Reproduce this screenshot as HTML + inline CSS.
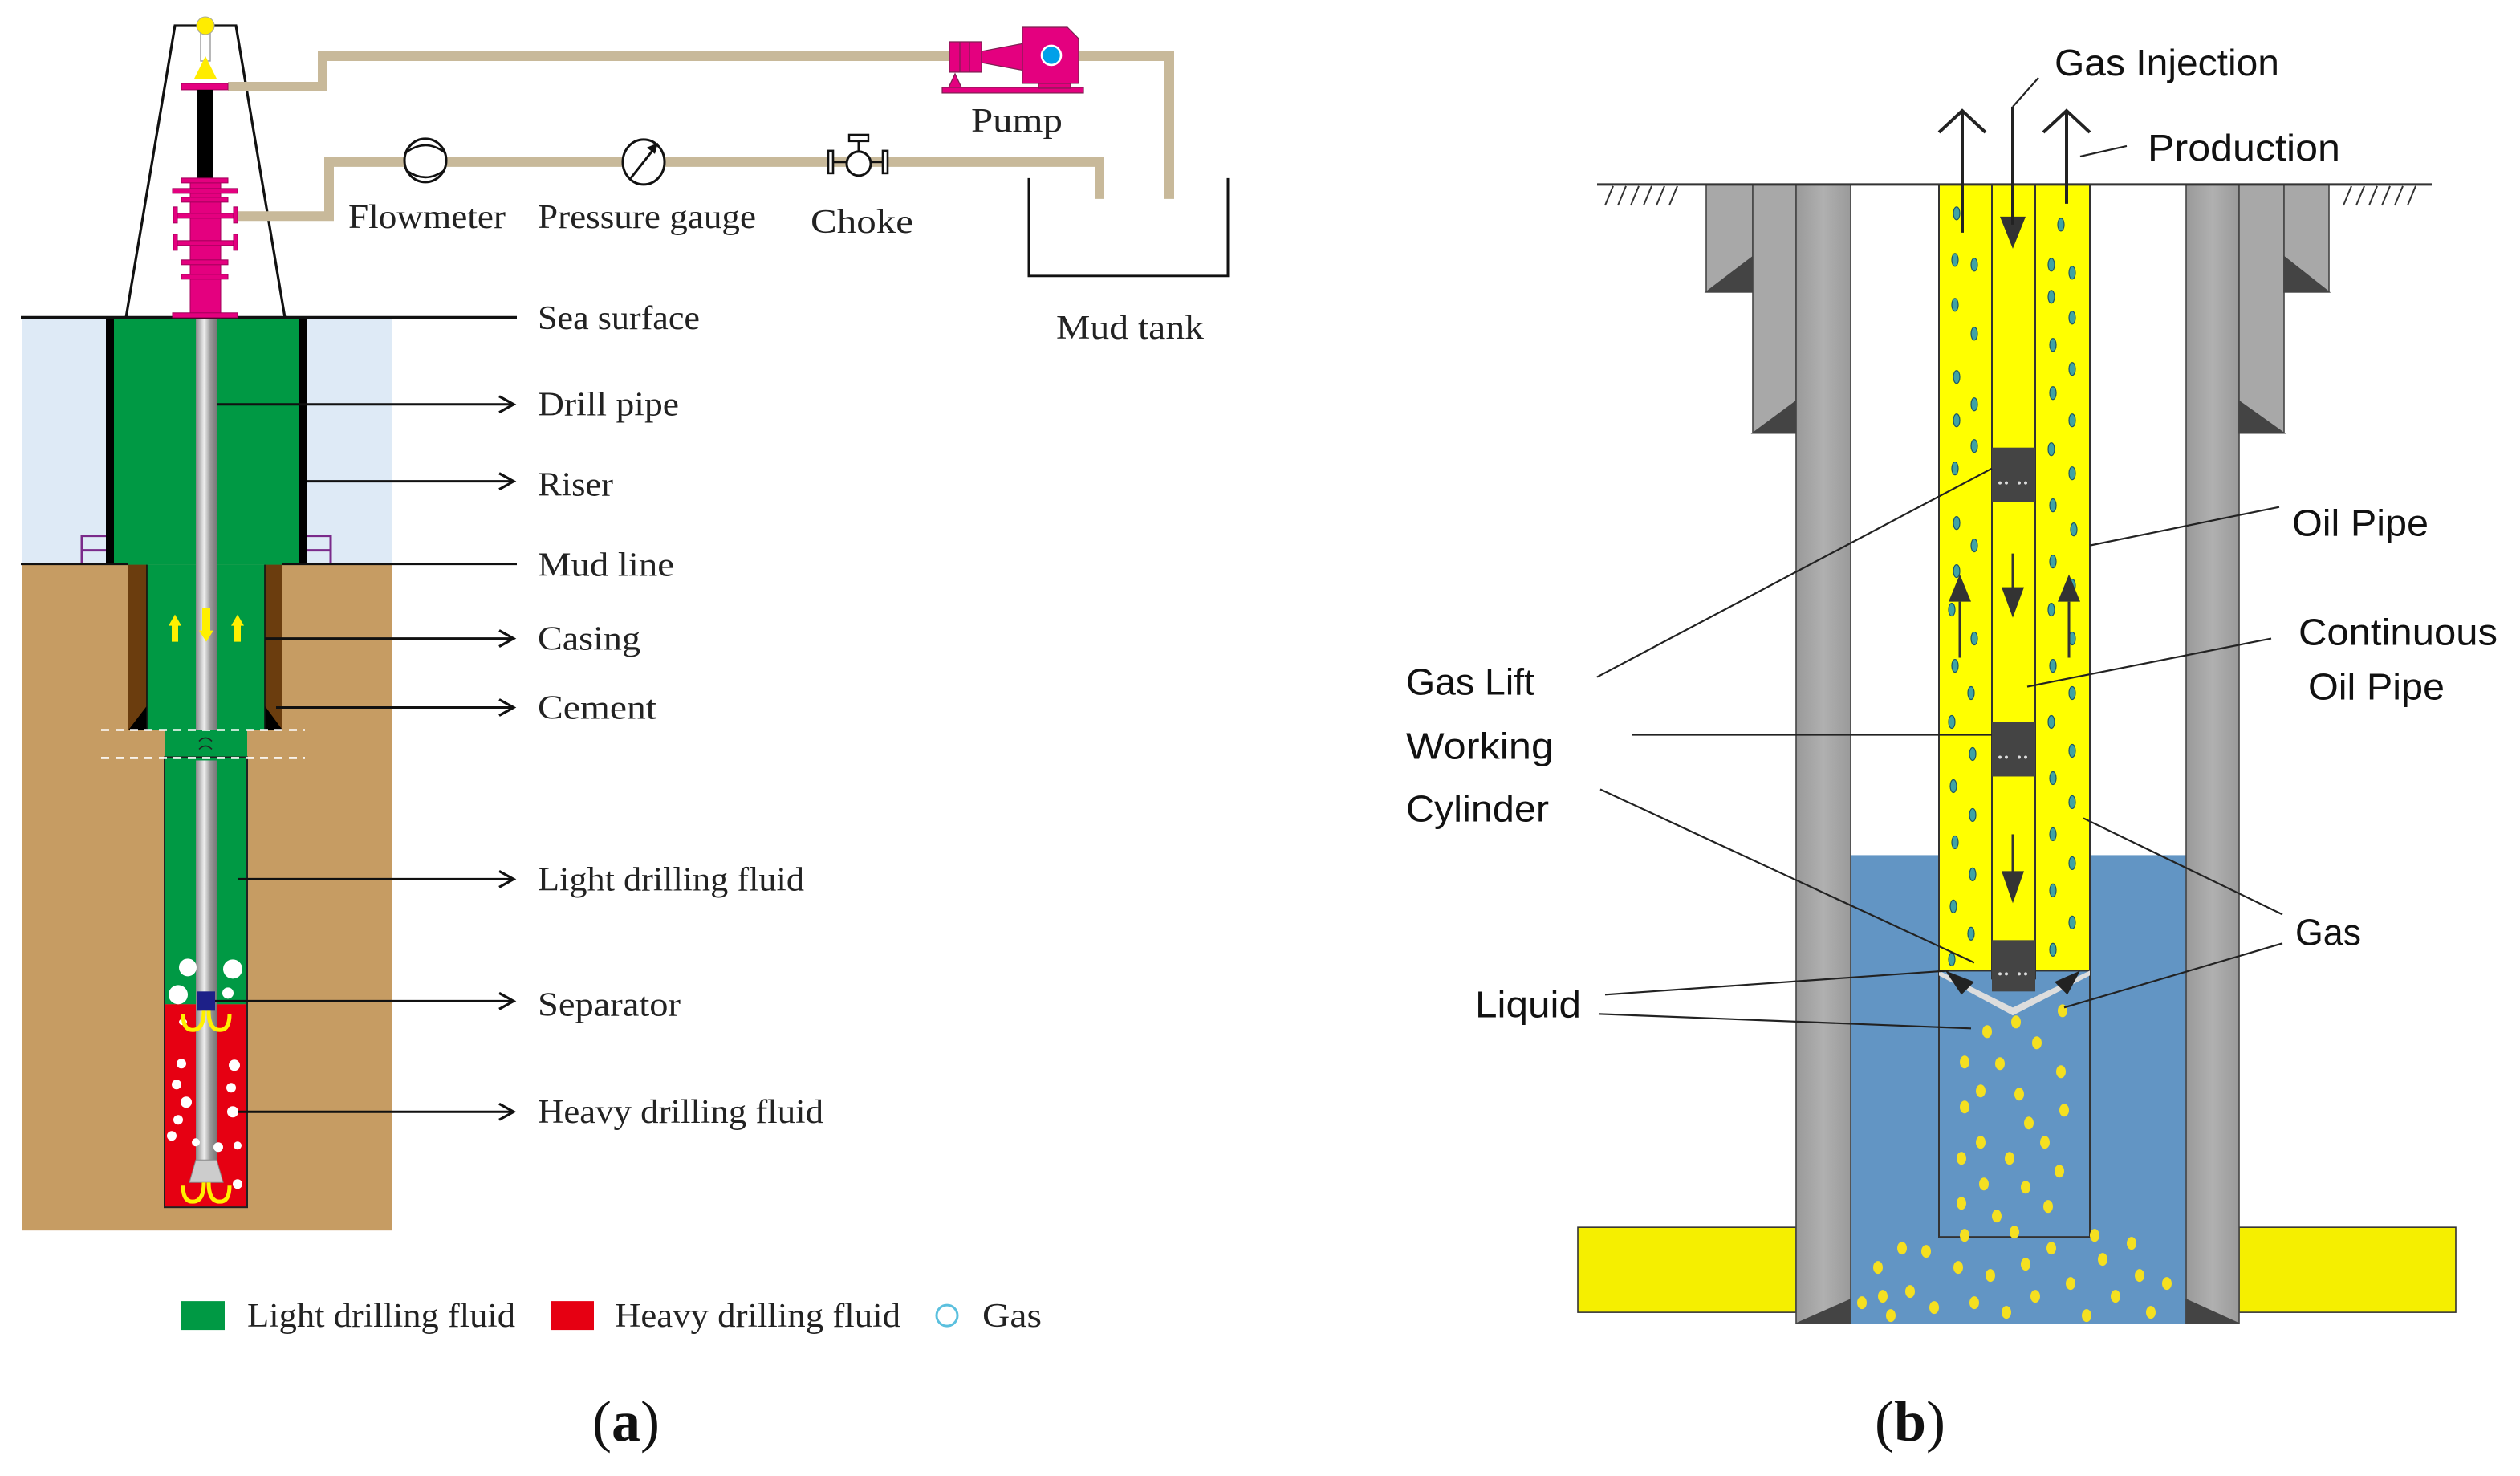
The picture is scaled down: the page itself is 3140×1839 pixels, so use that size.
<!DOCTYPE html>
<html><head><meta charset="utf-8"><style>
html,body{margin:0;padding:0;background:#fff;}
svg{display:block;}
.s{font-family:"Liberation Serif",serif;fill:#222;}
.n{font-family:"Liberation Sans",sans-serif;fill:#111;}
</style></head><body>
<svg width="3140" height="1839" viewBox="0 0 1570 920" preserveAspectRatio="none" xmlns="http://www.w3.org/2000/svg">
<defs>
<marker id="ah" markerWidth="12" markerHeight="12" refX="10" refY="6" orient="auto" markerUnits="userSpaceOnUse">
<path d="M1,1 L10,6 L1,11" fill="none" stroke="#111" stroke-width="1.6"/></marker>
<linearGradient id="pg" x1="0" x2="1"><stop offset="0" stop-color="#888"/><stop offset="0.4" stop-color="#eee"/><stop offset="0.7" stop-color="#999"/><stop offset="1" stop-color="#777"/></linearGradient>
<linearGradient id="cg" x1="0" x2="1"><stop offset="0" stop-color="#9a9a9a"/><stop offset="0.5" stop-color="#b0b0b0"/><stop offset="1" stop-color="#9a9a9a"/></linearGradient>
</defs>

<!-- ============ (a) ============ -->
<rect x="13.5" y="198" width="230.5" height="154" fill="#deeaf6"/>
<rect x="13.5" y="352" width="230.5" height="415" fill="#c69c63"/>
<!-- riser -->
<rect x="66" y="198" width="125" height="154" fill="#009944"/>
<rect x="66" y="198" width="5" height="154" fill="#000"/>
<rect x="186" y="198" width="5" height="154" fill="#000"/>
<!-- casing section -->
<rect x="80" y="352" width="96" height="103" fill="#009944"/>
<rect x="80" y="352" width="11.5" height="103" fill="#6b3d0e"/>
<rect x="165" y="352" width="11" height="103" fill="#6b3d0e"/>
<path d="M80,455 L91.5,455 L91.5,440 Z" fill="#000"/>
<path d="M176,455 L165,455 L165,440 Z" fill="#000"/>
<line x1="91.5" y1="352" x2="91.5" y2="455" stroke="#111" stroke-width="0.8"/>
<line x1="165" y1="352" x2="165" y2="455" stroke="#111" stroke-width="0.8"/>
<!-- lower well -->
<rect x="102.5" y="455" width="51.5" height="171" fill="#009944"/>
<rect x="102.5" y="626" width="51.5" height="126.5" fill="#e60012"/>
<rect x="102.5" y="472" width="51.5" height="280.5" fill="none" stroke="#222" stroke-width="1"/>
<line x1="63" y1="455" x2="190" y2="455" stroke="#fff" stroke-width="1.3" stroke-dasharray="5,4"/>
<line x1="63" y1="472.5" x2="190" y2="472.5" stroke="#fff" stroke-width="1.3" stroke-dasharray="5,4"/>
<path d="M124,462 q4,-4 8,0 M124,467 q4,-4 8,0" stroke="#222" stroke-width="0.8" fill="none"/>
<!-- drill pipe -->
<rect x="122" y="198" width="13" height="257" fill="url(#pg)"/>
<rect x="122" y="474" width="13" height="250" fill="url(#pg)"/>
<path d="M122,723 L135,723 L139,737 L118,737 Z" fill="#ccc" stroke="#888" stroke-width="0.5"/>
<rect x="122.5" y="618" width="11.5" height="12" fill="#1d2088"/>
<!-- bubbles -->
<g fill="#fff">
<circle cx="117" cy="603" r="5.5"/><circle cx="111" cy="620" r="6"/><circle cx="145" cy="604" r="6"/><circle cx="142" cy="619" r="3.5"/>
<ellipse cx="114" cy="637" rx="2.5" ry="2"/>
<circle cx="113" cy="663" r="3"/><circle cx="146" cy="664" r="3.5"/><circle cx="110" cy="676" r="3"/><circle cx="116" cy="687" r="3.5"/><circle cx="144" cy="678" r="3"/><circle cx="111" cy="698" r="3"/><circle cx="145" cy="693" r="3.5"/><circle cx="107" cy="708" r="3"/><circle cx="136" cy="715" r="3"/><circle cx="148" cy="714" r="2.5"/><circle cx="122" cy="712" r="2.5"/><circle cx="148" cy="738" r="3"/>
</g>
<!-- yellow arrows -->
<g fill="#fff000">
<path d="M107,400 L107,390 L105,390 L109,383 L113,390 L111,390 L111,400 Z"/>
<path d="M146,400 L146,390 L144,390 L148,383 L152,390 L150,390 L150,400 Z"/>
<path d="M126,379 L131,379 L131,393 L133,393 L128.5,400 L124,393 L126,393 Z"/>
</g>
<g fill="none" stroke="#fff000" stroke-width="2.5">
<path d="M127,630 q0,12 -7,12 q-6,0 -6,-10"/><path d="M130,630 q0,12 7,12 q6,0 6,-10"/>
<path d="M127,737 q0,12 -7,12 q-6,0 -6,-10"/><path d="M130,737 q0,12 7,12 q6,0 6,-10"/>
</g>
<!-- purple brackets -->
<g stroke="#7a2a8a" stroke-width="1.5" fill="none">
<path d="M66,334 L51,334 L51,352 M51,343 L66,343"/>
<path d="M191,334 L206,334 L206,352 M206,343 L191,343"/>
</g>
<!-- surface/mud lines -->
<line x1="13" y1="198" x2="322" y2="198" stroke="#111" stroke-width="2"/>
<line x1="13" y1="351.5" x2="80" y2="351.5" stroke="#111" stroke-width="1.5"/>
<line x1="176" y1="351.5" x2="322" y2="351.5" stroke="#111" stroke-width="1.5"/>
<!-- derrick -->
<path d="M78.5,198 L109,16 L147,16 L177.5,198" fill="none" stroke="#111" stroke-width="1.6"/>
<rect x="125" y="16" width="6" height="22" fill="none" stroke="#999" stroke-width="0.7"/>
<circle cx="128" cy="16" r="5.5" fill="#ffec00" stroke="#aa9" stroke-width="0.5"/>
<path d="M128,35 L135,49 L121,49 Z" fill="#ffec00"/>
<!-- pipes -->
<g fill="none" stroke="#c8b99a" stroke-width="6">
<path d="M142,54 L201,54 L201,35 L728.5,35 L728.5,124"/>
<path d="M147,134.7 L205,134.7 L205,101 L685,101 L685,124"/>
</g>
<!-- kelly + BOP -->
<rect x="113" y="52" width="29" height="4" fill="#e4007f" stroke="#a0005a" stroke-width="0.5"/>
<rect x="123" y="56" width="10" height="56" fill="#000"/>
<rect x="118.5" y="112" width="19" height="86" fill="#e4007f" stroke="#a0005a" stroke-width="0.5"/>
<g fill="#e4007f" stroke="#a0005a" stroke-width="0.5">
<rect x="113" y="111" width="29" height="3"/><rect x="107.5" y="117.5" width="40.5" height="3"/><rect x="113" y="123" width="29" height="3"/>
<rect x="109" y="133" width="38" height="3"/><rect x="108" y="129" width="2.5" height="10"/><rect x="145.5" y="129" width="2.5" height="10"/>
<rect x="109" y="150" width="38" height="3"/><rect x="108" y="146" width="2.5" height="10"/><rect x="145.5" y="146" width="2.5" height="10"/>
<rect x="113" y="162" width="29" height="3"/><rect x="113" y="171" width="29" height="3"/><rect x="107.5" y="195" width="40.5" height="3"/>
</g>
<!-- flowmeter etc -->
<ellipse cx="265" cy="100" rx="13" ry="13.5" fill="#fff" stroke="#111" stroke-width="1.5"/>
<path d="M253,95 q12,-9 24,0 M253,106 q12,9 24,0" fill="none" stroke="#111" stroke-width="1.3"/>
<ellipse cx="401" cy="101" rx="13" ry="14" fill="#fff" stroke="#111" stroke-width="1.5"/>
<line x1="393" y1="111" x2="408" y2="92" stroke="#111" stroke-width="1.5"/>
<path d="M410,89 L403,92 L408,96 Z" fill="#111"/>
<circle cx="535" cy="102" r="7.5" fill="#fff" stroke="#111" stroke-width="1.5"/>
<rect x="516" y="94" width="3" height="14" fill="#fff" stroke="#111" stroke-width="1.3"/>
<rect x="550" y="94" width="3" height="14" fill="#fff" stroke="#111" stroke-width="1.3"/>
<line x1="519" y1="101" x2="528" y2="101" stroke="#111" stroke-width="1.3"/>
<line x1="542" y1="101" x2="550" y2="101" stroke="#111" stroke-width="1.3"/>
<line x1="535" y1="88" x2="535" y2="95" stroke="#111" stroke-width="1.5"/>
<rect x="529" y="84" width="12" height="4" fill="#fff" stroke="#111" stroke-width="1.2"/>
<!-- pump -->
<g fill="#e4007f" stroke="#7a2050" stroke-width="0.6">
<rect x="587" y="54.5" width="88" height="3.5"/>
<path d="M591,54.5 L595,46 L599,54.5 Z"/>
<rect x="591.5" y="26" width="20" height="19"/>
<path d="M611.5,32 L638,27 L638,44 L611.5,39 Z"/>
<path d="M637,17 L665,17 L672,24 L672,52 L637,52 Z"/>
<rect x="647" y="52" width="20" height="3"/>
</g>
<g stroke="#7a2050" stroke-width="0.6"><line x1="598" y1="26" x2="598" y2="45"/><line x1="604" y1="26" x2="604" y2="45"/></g>
<circle cx="655" cy="34.5" r="6" fill="#00a0e9" stroke="#fff" stroke-width="1.3"/>
<!-- mud tank -->
<path d="M641,111 L641,172 L765,172 L765,111" fill="none" stroke="#111" stroke-width="1.5"/>
<!-- labels (a) -->
<g class="s" font-size="21">
<text x="217" y="142" textLength="98" lengthAdjust="spacingAndGlyphs">Flowmeter</text>
<text x="335" y="142" textLength="136" lengthAdjust="spacingAndGlyphs">Pressure gauge</text>
<text x="505" y="145" textLength="64" lengthAdjust="spacingAndGlyphs">Choke</text>
<text x="605" y="82" textLength="57" lengthAdjust="spacingAndGlyphs">Pump</text>
<text x="658" y="211" textLength="92" lengthAdjust="spacingAndGlyphs">Mud tank</text>
<text x="335" y="205" textLength="101" lengthAdjust="spacingAndGlyphs">Sea surface</text>
<text x="335" y="259" textLength="88" lengthAdjust="spacingAndGlyphs">Drill pipe</text>
<text x="335" y="309" textLength="47" lengthAdjust="spacingAndGlyphs">Riser</text>
<text x="335" y="359" textLength="85" lengthAdjust="spacingAndGlyphs">Mud line</text>
<text x="335" y="405" textLength="64" lengthAdjust="spacingAndGlyphs">Casing</text>
<text x="335" y="448" textLength="74" lengthAdjust="spacingAndGlyphs">Cement</text>
<text x="335" y="555" textLength="166" lengthAdjust="spacingAndGlyphs">Light drilling fluid</text>
<text x="335" y="633" textLength="89" lengthAdjust="spacingAndGlyphs">Separator</text>
<text x="335" y="700" textLength="178" lengthAdjust="spacingAndGlyphs">Heavy drilling fluid</text>
<text x="154" y="827" textLength="167" lengthAdjust="spacingAndGlyphs">Light drilling fluid</text>
<text x="383" y="827" textLength="178" lengthAdjust="spacingAndGlyphs">Heavy drilling fluid</text>
<text x="612" y="827" textLength="37" lengthAdjust="spacingAndGlyphs">Gas</text>
</g>
<g stroke="#111" stroke-width="1.5" marker-end="url(#ah)">
<line x1="135" y1="252" x2="320" y2="252"/>
<line x1="191" y1="300" x2="320" y2="300"/>
<line x1="165" y1="398" x2="320" y2="398"/>
<line x1="172" y1="441" x2="320" y2="441"/>
<line x1="148" y1="548" x2="320" y2="548"/>
<line x1="134" y1="624" x2="320" y2="624"/>
<line x1="148" y1="693" x2="320" y2="693"/>
</g>
<rect x="113" y="811" width="27" height="18" fill="#009944"/>
<rect x="343" y="811" width="27" height="18" fill="#e60012"/>
<circle cx="590" cy="820" r="6.5" fill="none" stroke="#5bc0de" stroke-width="1.5"/>
<text x="390" y="898" text-anchor="middle" font-family="Liberation Serif,serif" font-size="36" fill="#111"><tspan>(</tspan><tspan font-weight="bold">a</tspan><tspan>)</tspan></text>

<!-- ============ (b) ============ -->
<!-- liquid -->
<rect x="1153" y="533" width="209" height="292" fill="#6295c4"/>
<!-- yellow formation bars -->
<rect x="983" y="765" width="136" height="53" fill="#f5ef00" stroke="#333" stroke-width="0.8"/>
<rect x="1395" y="765" width="135" height="53" fill="#f5ef00" stroke="#333" stroke-width="0.8"/>
<!-- casings left -->
<g stroke="#444" stroke-width="0.8">
<rect x="1063" y="115" width="29" height="67" fill="#a8a8a8"/>
<path d="M1063,182 L1092,182 L1092,160 Z" fill="#444"/>
<rect x="1092" y="115" width="27" height="155" fill="#a8a8a8"/>
<path d="M1092,270 L1119,270 L1119,250 Z" fill="#444"/>
<rect x="1119" y="115" width="34" height="710" fill="url(#cg)"/>
<path d="M1119,825 L1153,825 L1153,810 Z" fill="#444"/>
<rect x="1362" y="115" width="33" height="710" fill="url(#cg)"/>
<path d="M1395,825 L1362,825 L1362,810 Z" fill="#444"/>
<rect x="1395" y="115" width="28" height="155" fill="#a8a8a8"/>
<path d="M1395,270 L1423,270 L1395,250 Z" fill="#444"/>
<rect x="1423" y="115" width="28" height="67" fill="#a8a8a8"/>
<path d="M1423,182 L1451,182 L1423,160 Z" fill="#444"/>
</g>
<!-- tubing -->
<rect x="1208" y="115" width="94" height="490" fill="#ffff00" stroke="#333" stroke-width="1"/>
<rect x="1208" y="605" width="94" height="166" fill="none" stroke="#333" stroke-width="1"/>
<rect x="1241" y="115" width="27" height="495" fill="#ffff00" stroke="#333" stroke-width="1"/>
<g fill="#444"><rect x="1241" y="279" width="27" height="34"/><rect x="1241" y="450" width="27" height="34"/><rect x="1241" y="586" width="27" height="32"/></g>
<g fill="#ddd"><circle cx="1246" cy="301" r="1"/><circle cx="1250" cy="301" r="1"/><circle cx="1258" cy="301" r="1"/><circle cx="1262" cy="301" r="1"/>
<circle cx="1246" cy="472" r="1"/><circle cx="1250" cy="472" r="1"/><circle cx="1258" cy="472" r="1"/><circle cx="1262" cy="472" r="1"/>
<circle cx="1246" cy="607" r="1"/><circle cx="1250" cy="607" r="1"/><circle cx="1258" cy="607" r="1"/><circle cx="1262" cy="607" r="1"/></g>
<path d="M1208,605 L1208,608 L1254,633 L1302,608 L1302,605 L1254,628 Z" fill="#ddd"/>
<path d="M1212,605 L1222,620 L1230,612 Z M1296,605 L1288,620 L1280,612 Z" fill="#222"/>
<!-- gas bubbles in annulus -->
<g fill="#3fa3a3" stroke="#1b5566" stroke-width="0.6">
<ellipse cx="1219" cy="133" rx="2" ry="4"/><ellipse cx="1218" cy="162" rx="2" ry="4"/><ellipse cx="1230" cy="165" rx="2" ry="4"/><ellipse cx="1218" cy="190" rx="2" ry="4"/><ellipse cx="1230" cy="208" rx="2" ry="4"/><ellipse cx="1219" cy="235" rx="2" ry="4"/><ellipse cx="1230" cy="252" rx="2" ry="4"/><ellipse cx="1219" cy="262" rx="2" ry="4"/><ellipse cx="1230" cy="278" rx="2" ry="4"/><ellipse cx="1218" cy="292" rx="2" ry="4"/><ellipse cx="1219" cy="326" rx="2" ry="4"/><ellipse cx="1230" cy="340" rx="2" ry="4"/><ellipse cx="1219" cy="356" rx="2" ry="4"/><ellipse cx="1216" cy="380" rx="2" ry="4"/><ellipse cx="1230" cy="398" rx="2" ry="4"/><ellipse cx="1218" cy="415" rx="2" ry="4"/><ellipse cx="1228" cy="432" rx="2" ry="4"/><ellipse cx="1216" cy="450" rx="2" ry="4"/><ellipse cx="1229" cy="470" rx="2" ry="4"/><ellipse cx="1217" cy="490" rx="2" ry="4"/><ellipse cx="1229" cy="508" rx="2" ry="4"/><ellipse cx="1218" cy="525" rx="2" ry="4"/><ellipse cx="1229" cy="545" rx="2" ry="4"/><ellipse cx="1217" cy="565" rx="2" ry="4"/><ellipse cx="1228" cy="582" rx="2" ry="4"/><ellipse cx="1216" cy="598" rx="2" ry="4"/>
<ellipse cx="1284" cy="140" rx="2" ry="4"/><ellipse cx="1278" cy="165" rx="2" ry="4"/><ellipse cx="1291" cy="170" rx="2" ry="4"/><ellipse cx="1278" cy="185" rx="2" ry="4"/><ellipse cx="1291" cy="198" rx="2" ry="4"/><ellipse cx="1279" cy="215" rx="2" ry="4"/><ellipse cx="1291" cy="230" rx="2" ry="4"/><ellipse cx="1279" cy="245" rx="2" ry="4"/><ellipse cx="1291" cy="262" rx="2" ry="4"/><ellipse cx="1278" cy="280" rx="2" ry="4"/><ellipse cx="1291" cy="295" rx="2" ry="4"/><ellipse cx="1279" cy="315" rx="2" ry="4"/><ellipse cx="1292" cy="330" rx="2" ry="4"/><ellipse cx="1279" cy="350" rx="2" ry="4"/><ellipse cx="1291" cy="365" rx="2" ry="4"/><ellipse cx="1278" cy="380" rx="2" ry="4"/><ellipse cx="1291" cy="398" rx="2" ry="4"/><ellipse cx="1279" cy="415" rx="2" ry="4"/><ellipse cx="1291" cy="432" rx="2" ry="4"/><ellipse cx="1278" cy="450" rx="2" ry="4"/><ellipse cx="1291" cy="468" rx="2" ry="4"/><ellipse cx="1279" cy="485" rx="2" ry="4"/><ellipse cx="1291" cy="500" rx="2" ry="4"/><ellipse cx="1279" cy="520" rx="2" ry="4"/><ellipse cx="1291" cy="538" rx="2" ry="4"/><ellipse cx="1279" cy="555" rx="2" ry="4"/><ellipse cx="1291" cy="575" rx="2" ry="4"/><ellipse cx="1279" cy="592" rx="2" ry="4"/>
</g>
<!-- yellow gas dots -->
<g fill="#f5e020">
<ellipse cx="1256" cy="637" rx="3" ry="4"/><ellipse cx="1238" cy="643" rx="3" ry="4"/><ellipse cx="1285" cy="630" rx="3" ry="4"/><ellipse cx="1269" cy="650" rx="3" ry="4"/><ellipse cx="1224" cy="662" rx="3" ry="4"/><ellipse cx="1246" cy="663" rx="3" ry="4"/><ellipse cx="1284" cy="668" rx="3" ry="4"/><ellipse cx="1234" cy="680" rx="3" ry="4"/><ellipse cx="1258" cy="682" rx="3" ry="4"/><ellipse cx="1224" cy="690" rx="3" ry="4"/><ellipse cx="1286" cy="692" rx="3" ry="4"/><ellipse cx="1264" cy="700" rx="3" ry="4"/><ellipse cx="1234" cy="712" rx="3" ry="4"/><ellipse cx="1274" cy="712" rx="3" ry="4"/><ellipse cx="1222" cy="722" rx="3" ry="4"/><ellipse cx="1252" cy="722" rx="3" ry="4"/><ellipse cx="1283" cy="730" rx="3" ry="4"/><ellipse cx="1236" cy="738" rx="3" ry="4"/><ellipse cx="1262" cy="740" rx="3" ry="4"/><ellipse cx="1222" cy="750" rx="3" ry="4"/><ellipse cx="1276" cy="752" rx="3" ry="4"/><ellipse cx="1244" cy="758" rx="3" ry="4"/><ellipse cx="1224" cy="770" rx="3" ry="4"/><ellipse cx="1255" cy="768" rx="3" ry="4"/>
<ellipse cx="1170" cy="790" rx="3" ry="4"/><ellipse cx="1185" cy="778" rx="3" ry="4"/><ellipse cx="1200" cy="780" rx="3" ry="4"/><ellipse cx="1173" cy="808" rx="3" ry="4"/><ellipse cx="1190" cy="805" rx="3" ry="4"/><ellipse cx="1178" cy="820" rx="3" ry="4"/><ellipse cx="1205" cy="815" rx="3" ry="4"/><ellipse cx="1220" cy="790" rx="3" ry="4"/><ellipse cx="1230" cy="812" rx="3" ry="4"/><ellipse cx="1240" cy="795" rx="3" ry="4"/><ellipse cx="1250" cy="818" rx="3" ry="4"/><ellipse cx="1262" cy="788" rx="3" ry="4"/><ellipse cx="1268" cy="808" rx="3" ry="4"/><ellipse cx="1278" cy="778" rx="3" ry="4"/><ellipse cx="1290" cy="800" rx="3" ry="4"/><ellipse cx="1300" cy="820" rx="3" ry="4"/><ellipse cx="1310" cy="785" rx="3" ry="4"/><ellipse cx="1318" cy="808" rx="3" ry="4"/><ellipse cx="1328" cy="775" rx="3" ry="4"/><ellipse cx="1333" cy="795" rx="3" ry="4"/><ellipse cx="1340" cy="818" rx="3" ry="4"/><ellipse cx="1350" cy="800" rx="3" ry="4"/><ellipse cx="1305" cy="770" rx="3" ry="4"/><ellipse cx="1160" cy="812" rx="3" ry="4"/>
</g>
<!-- arrows inside tubing -->
<g stroke="#333" stroke-width="1.5">
<line x1="1254" y1="345" x2="1254" y2="372"/><line x1="1254" y1="520" x2="1254" y2="548"/>
<line x1="1221" y1="375" x2="1221" y2="410"/><line x1="1289" y1="375" x2="1289" y2="410"/>
</g>
<g fill="#333">
<path d="M1246,135 L1262,135 L1254,155 Z"/>
<path d="M1247,366 L1261,366 L1254,385 Z"/><path d="M1247,543 L1261,543 L1254,563 Z"/>
<path d="M1214,375 L1228,375 L1221,358 Z"/><path d="M1282,375 L1296,375 L1289,358 Z"/>
</g>
<!-- ground -->
<line x1="995" y1="115" x2="1515" y2="115" stroke="#333" stroke-width="1.5"/>
<g stroke="#333" stroke-width="1">
<line x1="1000" y1="128" x2="1005" y2="116"/><line x1="1008" y1="128" x2="1013" y2="116"/><line x1="1016" y1="128" x2="1021" y2="116"/><line x1="1024" y1="128" x2="1029" y2="116"/><line x1="1032" y1="128" x2="1037" y2="116"/><line x1="1040" y1="128" x2="1045" y2="116"/>
<line x1="1460" y1="128" x2="1465" y2="116"/><line x1="1468" y1="128" x2="1473" y2="116"/><line x1="1476" y1="128" x2="1481" y2="116"/><line x1="1484" y1="128" x2="1489" y2="116"/><line x1="1492" y1="128" x2="1497" y2="116"/><line x1="1500" y1="128" x2="1505" y2="116"/>
</g>
<!-- top arrows -->
<g stroke="#222" stroke-width="2" fill="none">
<line x1="1222.5" y1="70" x2="1222.5" y2="145"/><path d="M1208,82.5 L1222.5,69 L1237,82.5"/>
<line x1="1287.5" y1="70" x2="1287.5" y2="127"/><path d="M1273,82.5 L1287.5,69 L1302,82.5"/>
<line x1="1254" y1="66.5" x2="1254" y2="140"/>
</g>
<!-- leaders -->
<g stroke="#222" stroke-width="1.1">
<line x1="1254" y1="66.5" x2="1270" y2="48.5"/>
<line x1="1296" y1="97.5" x2="1325" y2="91"/>
<line x1="995" y1="422" x2="1241" y2="292"/>
<line x1="1017" y1="458" x2="1241" y2="458"/>
<line x1="997" y1="492" x2="1230" y2="600"/>
<line x1="1420" y1="316" x2="1302" y2="340"/>
<line x1="1415" y1="398" x2="1263" y2="428"/>
<line x1="1422" y1="570" x2="1298" y2="510"/>
<line x1="1422" y1="588" x2="1286" y2="628"/>
<line x1="1000" y1="620" x2="1214" y2="605"/>
<line x1="996" y1="632" x2="1228" y2="641"/>
</g>
<g class="n" font-size="23">
<text x="1280" y="47" textLength="140" lengthAdjust="spacingAndGlyphs">Gas Injection</text>
<text x="1338" y="100" textLength="120" lengthAdjust="spacingAndGlyphs">Production</text>
<text x="1428" y="334" textLength="85" lengthAdjust="spacingAndGlyphs">Oil Pipe</text>
<text x="1432" y="402" textLength="124" lengthAdjust="spacingAndGlyphs">Continuous</text>
<text x="1438" y="436" textLength="85" lengthAdjust="spacingAndGlyphs">Oil Pipe</text>
<text x="876" y="433" textLength="80" lengthAdjust="spacingAndGlyphs">Gas Lift</text>
<text x="876" y="473" textLength="92" lengthAdjust="spacingAndGlyphs">Working</text>
<text x="876" y="512" textLength="89" lengthAdjust="spacingAndGlyphs">Cylinder</text>
<text x="1430" y="589" textLength="41" lengthAdjust="spacingAndGlyphs">Gas</text>
<text x="919" y="634" textLength="66" lengthAdjust="spacingAndGlyphs">Liquid</text>
</g>
<text x="1190" y="898" text-anchor="middle" font-family="Liberation Serif,serif" font-size="36" fill="#111"><tspan>(</tspan><tspan font-weight="bold">b</tspan><tspan>)</tspan></text>
</svg>
</body></html>
